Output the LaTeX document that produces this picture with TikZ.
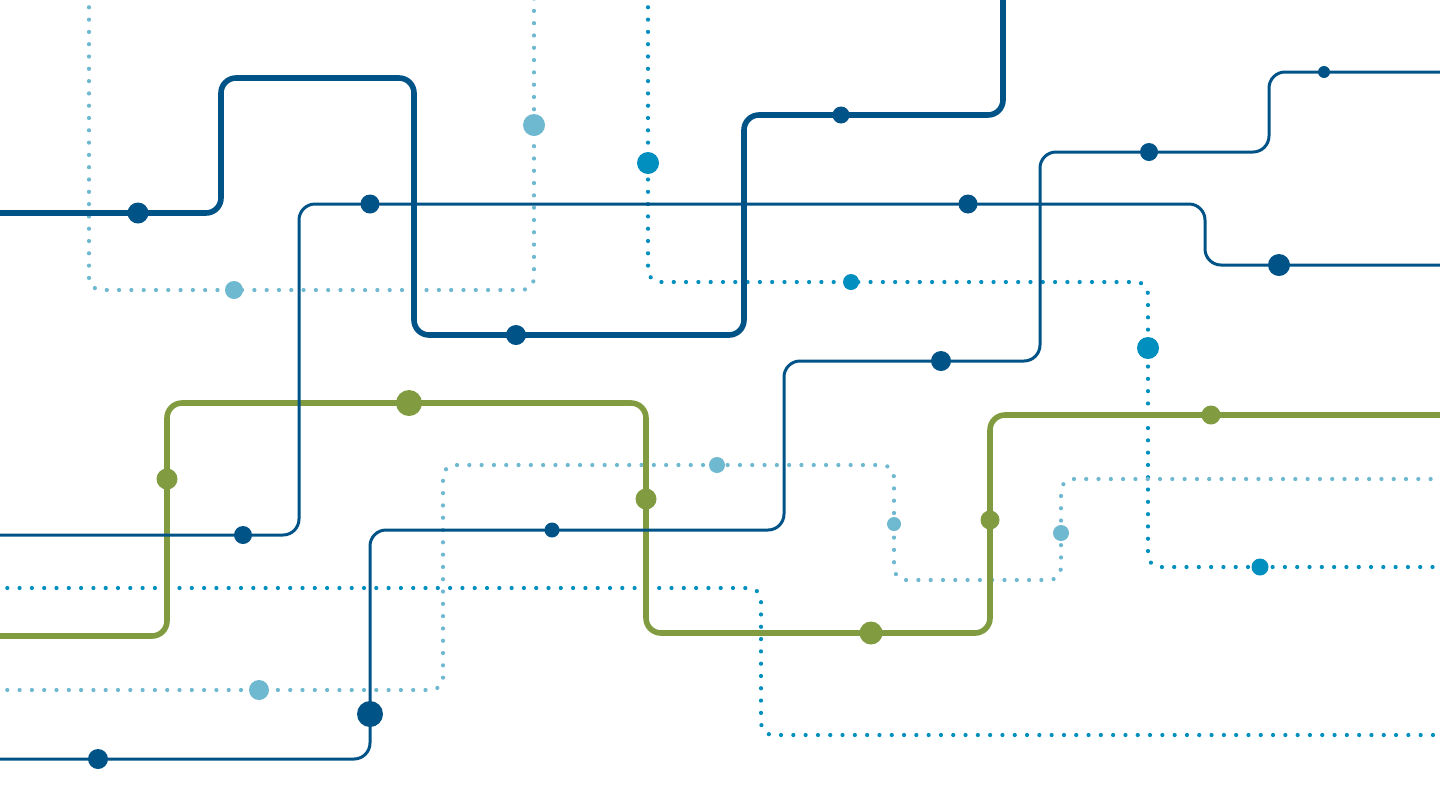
\documentclass[tikz,border=0pt]{standalone}
\definecolor{dblue}{RGB}{0,83,135}
\definecolor{lgreen}{RGB}{129,156,64}
\definecolor{lblue}{RGB}{110,184,208}
\definecolor{teal}{RGB}{0,143,190}
\tikzset{
  thickline/.style={line width=2.8pt, rounded corners=7.5pt},
  thinline/.style={line width=1.5pt, rounded corners=8pt},
  dotline/.style={line width=2.1pt, line cap=round, dash pattern=on 0pt off 6.15pt, rounded corners=6pt},
}
\begin{document}
\begin{tikzpicture}[x=0.5pt,y=-0.5pt]
\useasboundingbox (0,0) rectangle (1440,800);
\clip (0,0) rectangle (1440,800);
\fill[white] (0,0) rectangle (1440,800);
% dotted lines
\draw[dotline, lblue] (89,-5) -- (89,290) -- (534,290) -- (534,-5);
\draw[dotline, teal] (648,-5) -- (648,282) -- (1148,282) -- (1148,567) -- (1445,567);
\draw[dotline, lblue] (-5,690) -- (443,690) -- (443,465) -- (894,465) -- (894,580) -- (1061,580) -- (1061,479) -- (1445,479);
\draw[dotline, teal] (-5,588) -- (761,588) -- (761,735) -- (1445,735);
% green
\draw[thickline, lgreen] (-5,636) -- (167,636) -- (167,403) -- (646,403) -- (646,633) -- (990,633) -- (990,415) -- (1445,415);
% thin blue lines
\draw[thinline, dblue] (-5,535) -- (299,535) -- (299,204) -- (1205,204) -- (1205,265) -- (1445,265);
\draw[thinline, dblue] (-5,759) -- (370,759) -- (370,530) -- (784,530) -- (784,361) -- (1040,361) -- (1040,152) -- (1269,152) -- (1269,72) -- (1445,72);
% thick blue
\draw[thickline, dblue] (-5,213) -- (221,213) -- (221,78) -- (414,78) -- (414,335) -- (744,335) -- (744,115) -- (1003,115) -- (1003,-5);
% dots: thick blue
\fill[dblue] (138,213) circle[radius=5.25pt];
\fill[dblue] (516,335) circle[radius=5pt];
\fill[dblue] (841,115) circle[radius=4.25pt];
% thin A
\fill[dblue] (243,535) circle[radius=4.5pt];
\fill[dblue] (370,204) circle[radius=4.75pt];
\fill[dblue] (968,204) circle[radius=4.75pt];
\fill[dblue] (1279,265) circle[radius=5.5pt];
% thin B
\fill[dblue] (98,759) circle[radius=5pt];
\fill[dblue] (370,714) circle[radius=6.5pt];
\fill[dblue] (552,530) circle[radius=3.75pt];
\fill[dblue] (941,361) circle[radius=5pt];
\fill[dblue] (1149,152) circle[radius=4.5pt];
\fill[dblue] (1324,72) circle[radius=3pt];
% green
\fill[lgreen] (167,479) circle[radius=5.25pt];
\fill[lgreen] (409,403) circle[radius=6.5pt];
\fill[lgreen] (646,499) circle[radius=5.25pt];
\fill[lgreen] (871,633) circle[radius=5.75pt];
\fill[lgreen] (990,520) circle[radius=4.75pt];
\fill[lgreen] (1211,415) circle[radius=4.75pt];
% light blue top
\fill[lblue] (234,290) circle[radius=4.5pt];
\fill[lblue] (534,125) circle[radius=5.5pt];
% teal
\fill[teal] (648,163) circle[radius=5.5pt];
\fill[teal] (851,282) circle[radius=4pt];
\fill[teal] (1148,348) circle[radius=5.5pt];
\fill[teal] (1260,567) circle[radius=4.25pt];
% light blue bottom
\fill[lblue] (259,690) circle[radius=5pt];
\fill[lblue] (717,465) circle[radius=4pt];
\fill[lblue] (894,524) circle[radius=3.5pt];
\fill[lblue] (1061,533) circle[radius=4pt];
\end{tikzpicture}
\end{document}
